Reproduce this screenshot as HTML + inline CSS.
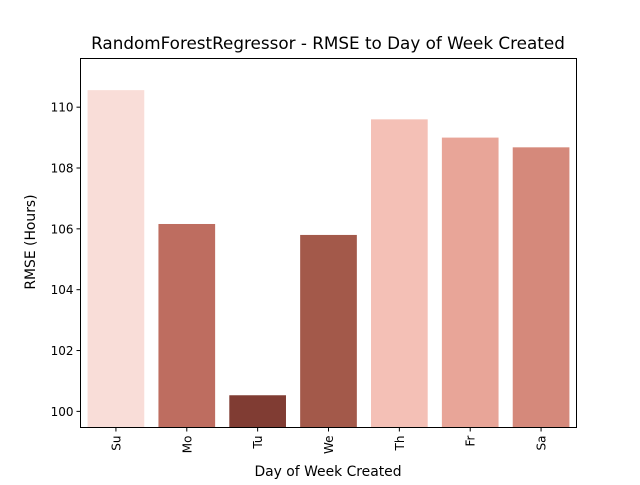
<!DOCTYPE html>
<html><head><meta charset="utf-8"><style>
body{margin:0;background:#fff;}
svg text{font-family:"DejaVu Sans","Liberation Sans",sans-serif;fill:#000;}
</style></head><body>
<svg width="640" height="480" xmlns="http://www.w3.org/2000/svg">
<rect width="640" height="480" fill="#fff"/>
<text x="328" y="49" font-size="16.8" text-anchor="middle">RandomForestRegressor - RMSE to Day of Week Created</text>
<g id="bars"></g>
<rect x="80.5" y="58.5" width="496" height="369" fill="none" stroke="#000" stroke-width="1"/>
<g id="yt"></g><g id="xt"></g>
<text x="328" y="476" font-size="13.9" text-anchor="middle">Day of Week Created</text>
<text transform="translate(35,242) rotate(-90)" font-size="13.9" text-anchor="middle">RMSE (Hours)</text>
</svg>
<script>
const categories=["Su","Mo","Tu","We","Th","Fr","Sa"];
const values=[110.56,106.16,100.53,105.80,109.60,109.00,108.68];
const colors=["#f9ddd8","#be6d60","#803c33","#a3594a","#f4c0b6","#e8a598","#d5897b"];
const yTicks=[100,102,104,106,108,110];
const L=80.5,R=576.5,T=58.5,B=427.5,ymin=99.47,ymax=111.6;
const ns="http://www.w3.org/2000/svg";
function y(v){return B-(v-ymin)/(ymax-ymin)*(B-T);}
const bw=(R-L)/categories.length;
function x(i){return L+bw*i;}
const gb=document.getElementById('bars'),gy=document.getElementById('yt'),gx=document.getElementById('xt');
categories.forEach((c,i)=>{
 const r=document.createElementNS(ns,'rect');
 r.setAttribute('x',x(i)+bw*0.1);r.setAttribute('width',bw*0.8);
 r.setAttribute('y',y(values[i]));r.setAttribute('height',B-y(values[i]));
 r.setAttribute('fill',colors[i]);
 
 
 gb.appendChild(r);
 const cx=x(i)+bw/2;
 const l=document.createElementNS(ns,'line');
 l.setAttribute('x1',cx);l.setAttribute('x2',cx);l.setAttribute('y1',B);l.setAttribute('y2',B+4);l.setAttribute('stroke','#000');
 
 
 gx.appendChild(l);
 const t=document.createElementNS(ns,'text');
 t.setAttribute('transform','translate('+(cx+4.5)+','+(B+8)+') rotate(-90)');
 t.setAttribute('font-size','12');t.setAttribute('text-anchor','end');
 t.textContent=c;
 
 
 gx.appendChild(t);
});
yTicks.forEach(v=>{
 const yy=y(v);
 const l=document.createElementNS(ns,'line');
 l.setAttribute('x1',L-4);l.setAttribute('x2',L);l.setAttribute('y1',yy);l.setAttribute('y2',yy);l.setAttribute('stroke','#000');
 
 
 gy.appendChild(l);
 const t=document.createElementNS(ns,'text');
 t.setAttribute('x',L-7);t.setAttribute('y',yy+4.5);t.setAttribute('font-size','12');t.setAttribute('text-anchor','end');
 t.textContent=v;
 
 
 gy.appendChild(t);
});
</script>
</body></html>
